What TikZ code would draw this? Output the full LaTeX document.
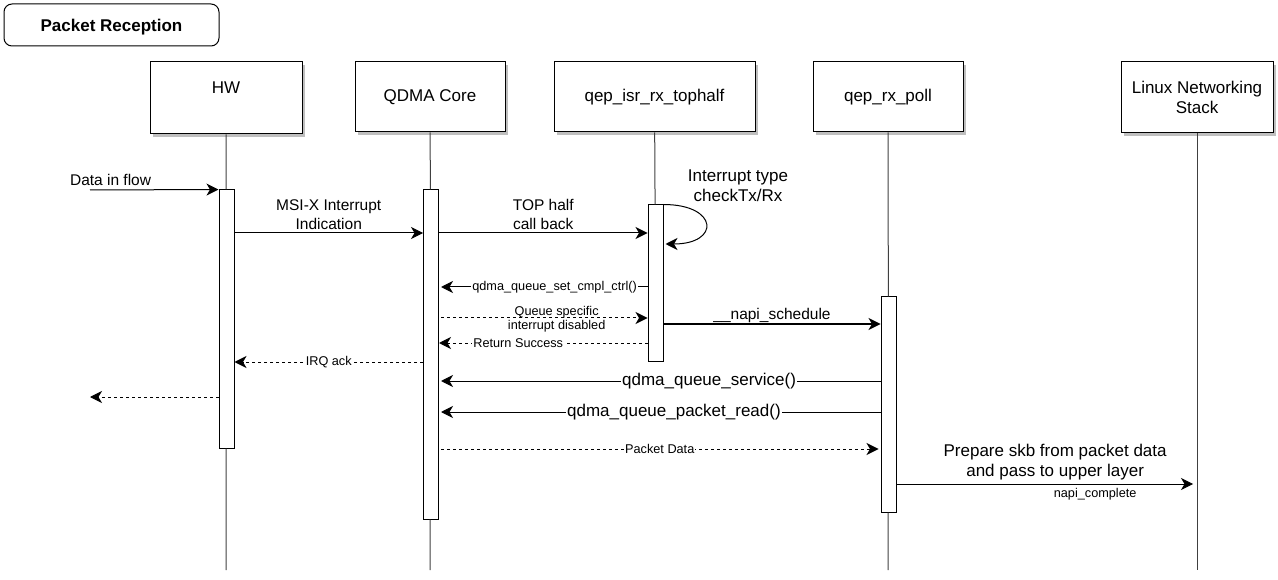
\documentclass[tikz,border=0pt]{standalone}
\usepackage{fontspec}
\setmainfont{Liberation Sans}
\usetikzlibrary{arrows.meta,shadows}

\begin{document}
\begin{tikzpicture}[x=1pt,y=-1pt,
    every node/.style={font=\fontsize{15.5}{19}\selectfont},
    big/.style={font=\fontsize{17}{20}\selectfont},
    small/.style={font=\fontsize{12.7}{14.5}\selectfont},
    head/.style={draw, line width=1pt, fill=white, minimum width=#1, minimum height=70pt, big, align=center,
        drop shadow={shadow xshift=3pt, shadow yshift=-3pt, fill=black!25, opacity=1}},
    bar/.style={draw, line width=1pt, fill=white, minimum width=15pt, minimum height=#1, inner sep=0pt},
    life/.style={line width=1pt, black!75},
    msg/.style={line width=1pt, -{Stealth[length=12pt,width=12pt,inset=3.5pt]}},
    ret/.style={msg, dash pattern=on 3pt off 3pt},
    onl/.style={fill=white, inner sep=1pt, small}]
    \useasboundingbox (0,0) rectangle (1278,580);

    \node[draw, line width=1pt, rounded corners=8pt, minimum width=215pt, minimum height=42pt, text depth=0pt,
        font=\fontsize{17}{20}\selectfont\bfseries] (title) at (111.5,25) {Packet Reception};

    \node[head=152pt, minimum height=72pt] (hw) at (226,98) {HW\\\mbox{}};
    \node[head=150pt] (core) at (430,97) {QDMA Core};
    \node[head=201pt] (top) at (654.5,97) {qep\_isr\_rx\_tophalf};
    \node[head=150pt] (poll) at (888,97) {qep\_rx\_poll};
    \node[head=152pt, minimum height=71pt] (stack) at (1197,97.5) {Linux Networking\\Stack};

    \node[bar=258pt] (hwbar) at (226.5,319) {};
    \node[bar=329pt] (corebar) at (431,354.5) {};
    \node[bar=156pt] (topbar) at (655.5,283) {};
    \node[bar=215pt] (pollbar) at (888.5,404.5) {};

    \coordinate (bot) at (0,570);
    \draw[life] (hw) -- (hwbar);
    \draw[life] (hwbar) -- (hw |- bot);
    \draw[life] (core) -- (corebar);
    \draw[life] (corebar) -- (core |- bot);
    \draw[life] (top) -- (topbar);
    \draw[life] (poll) -- (pollbar);
    \draw[life] (pollbar) -- (poll |- bot);
    \draw[life] (stack) -- (stack |- bot);

    \coordinate (din) at (90,190);
    \coordinate (msix) at (0,233);
    \coordinate (loopend) at (0,244);
    \coordinate (cmpl) at (0,287);
    \coordinate (qdis) at (0,318);
    \coordinate (napi) at (0,324);
    \coordinate (rsucc) at (0,343);
    \coordinate (irq) at (0,362);
    \coordinate (qsvc) at (0,381);
    \coordinate (hwexit) at (90,397);
    \coordinate (pread) at (0,412);
    \coordinate (pdata) at (0,449);
    \coordinate (skb) at (0,484);

    \draw[msg] (din) -- node[above, pos=0.16] {Data in flow} (hwbar.north west);
    \draw[msg] (hwbar.east |- msix) -- node[above, align=center] {MSI-X Interrupt\\Indication} (corebar.west |- msix);
    \draw[msg] (corebar.east |- msix) -- node[above, align=center] {TOP half\\call back} (topbar.west |- msix);
    \draw[msg] (topbar.north east) .. controls +(55,0) and +(55,0) .. ([xshift=2pt]topbar.east |- loopend);
    \node[big, align=center] (itype) at (738,186) {Interrupt type\\checkTx/Rx};
    \draw[msg] (topbar.west |- cmpl) -- node[onl, pos=0.45] {qdma\_queue\_set\_cmpl\_ctrl()} ([xshift=2pt]corebar.east |- cmpl);
    \draw[ret] ([xshift=2pt]corebar.east |- qdis) -- node[onl, pos=0.56, align=center, fill=none, yshift=-1pt] {Queue specific\\interrupt disabled} (topbar.west |- qdis);
    \draw[ret] (topbar.west |- rsucc) -- node[onl, pos=0.62] {Return Success} (corebar.east |- rsucc);
    \draw[msg] (topbar.east |- napi) -- node[above, inner sep=1pt] {\_\_napi\_schedule} (pollbar.west |- napi);
    \draw[ret] (corebar.west |- irq) -- node[onl] {IRQ ack} (hwbar.east |- irq);
    \draw[ret] (hwbar.west |- hwexit) -- (hwexit);
    \draw[msg] (pollbar.west |- qsvc) -- node[onl, big, pos=0.39] {qdma\_queue\_service()} ([xshift=2pt]corebar.east |- qsvc);
    \draw[msg] (pollbar.west |- pread) -- node[onl, big, pos=0.47] {qdma\_queue\_packet\_read()} ([xshift=2pt]corebar.east |- pread);
    \draw[ret] ([xshift=2pt]corebar.east |- pdata) -- node[onl] {Packet Data} ([xshift=-2pt]pollbar.west |- pdata);
    \draw[msg] (pollbar.east |- skb) -- node[above, big, align=center, pos=0.535] {Prepare skb from packet data\\and pass to upper layer}
        node[below, small, pos=0.67] {napi\_complete} ([xshift=-4pt]stack |- skb);
\end{tikzpicture}
\end{document}
